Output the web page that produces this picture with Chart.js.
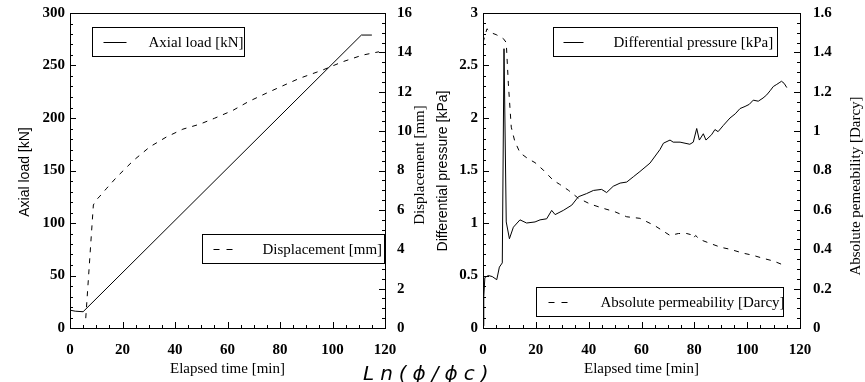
<!DOCTYPE html>
<html>
<head>
<meta charset="utf-8">
<script src="https://cdn.jsdelivr.net/npm/chart.js@4.4.1/dist/chart.umd.min.js"></script>
<style>
  body { margin: 0; background: #fff; width: 865px; height: 382px; position: relative; overflow: hidden; }
  #left { position: absolute; left: 0; top: 0; }
  #right { position: absolute; left: 432px; top: 0; }
  #ln { position: absolute; left: 363px; top: 363px; font: oblique 20px "DejaVu Sans"; letter-spacing: 6px; line-height: 20px; white-space: nowrap; color: #000; }
</style>
</head>
<body>
<canvas id="left" width="432" height="382"></canvas>
<canvas id="right" width="433" height="382"></canvas>
<div id="ln">Ln(ϕ/ϕc)</div>
<script>
// tick labels
const timeTicks = [0, 20, 40, 60, 80, 100, 120];
const loadTicks = [0, 50, 100, 150, 200, 250, 300];
const dispTicks = [0, 2, 4, 6, 8, 10, 12, 14, 16];
const dpTicks = [0, 0.5, 1, 1.5, 2, 2.5, 3];
const permTicks = [0, 0.2, 0.4, 0.6, 0.8, 1, 1.2, 1.4, 1.6];

// left panel
const loadTime = [0, 2, 5, 111, 115];
const axialLoad = [17, 16, 15.5, 279, 279];
const dispTime = [6.0, 8.9, 10, 11.4, 14, 17.7, 24.1, 30.4, 36.7, 43, 49.4, 55, 62, 68, 74.7, 81, 87.4, 96.2, 103.8, 111.4, 117.7];
const displacement = [0.5, 6.25, 6.5, 6.7, 7.1, 7.65, 8.5, 9.2, 9.7, 10.1, 10.35, 10.65, 11.05, 11.5, 11.92, 12.3, 12.68, 13.1, 13.52, 13.86, 14.03];

// right panel
const dpTime = [0, 0.3, 0.7, 2, 3.5, 5.2, 6.2, 7.3, 7.95, 8.8, 10, 11.5, 14, 16.5, 19.7, 21.6, 24.1, 26, 27.3,
  30.4, 33.6, 36.1, 39.2, 41.8, 44.9, 46.8, 49.3, 51.9, 54.4, 56.9, 59.4, 63.2, 67, 68.3, 70.8, 72, 74.6, 78.3, 79.6,
  80.9, 81.9, 83.4, 84.4, 86.5, 87.8, 89, 91, 93.5, 95.5, 97.3, 99.2, 100.8, 102.3, 104.2, 106, 107.4, 108.7, 109.9, 111.2,
  112.4, 113, 114, 115];
const diffPressure = [0.02, 0.3, 0.48, 0.5, 0.49, 0.46, 0.58, 0.62, 2.66, 1.01, 0.85, 0.96, 1.03, 1.0, 1.01, 1.03, 1.04, 1.12, 1.08,
  1.12, 1.17, 1.25, 1.28, 1.31, 1.32, 1.29, 1.35, 1.38, 1.39, 1.44, 1.49, 1.57, 1.70, 1.76, 1.79, 1.77, 1.77, 1.75, 1.77,
  1.90, 1.79, 1.85, 1.79, 1.84, 1.89, 1.87, 1.93, 2.0, 2.04, 2.09, 2.11, 2.13, 2.17, 2.16, 2.19, 2.22, 2.26, 2.30, 2.32,
  2.34, 2.35, 2.33, 2.29];
const permTime = [0, 1.5, 3, 5, 7.7, 8.8, 9.6, 10.7, 12, 14, 17, 19.7, 23, 26.6, 29, 32.3, 36, 40.5, 45, 50,
  54.4, 59.4, 65, 70.8, 74, 77.1, 78.5, 79.6, 80.5, 82, 85.9, 90, 93.5, 98.5, 102, 106, 110, 113.7];
const permeability = [1.45, 1.52, 1.50, 1.49, 1.47, 1.45, 1.24, 1.02, 0.95, 0.89, 0.86, 0.84, 0.80, 0.75, 0.73, 0.70, 0.66, 0.63, 0.61, 0.59,
  0.565, 0.557, 0.52, 0.47, 0.48, 0.48, 0.475, 0.455, 0.47, 0.45, 0.43, 0.41, 0.40, 0.38, 0.37, 0.354, 0.34, 0.32];

const serif = '"Liberation Serif", "Times New Roman", serif';
const sans = '"Liberation Sans", Arial, sans-serif';
const tickFont = { family: serif, size: 15, weight: 'bold' };

function pts(xs, ys) {
  return xs.map((x, i) => ({ x: x, y: ys[i] }));
}

// frame + inward tick marks
const frameTicks = {
  id: 'frameTicks',
  afterDraw(chart, args, opts) {
    const { ctx, chartArea: a, scales } = chart;
    ctx.save();
    ctx.strokeStyle = '#000';
    ctx.lineWidth = 1;
    ctx.strokeRect(Math.round(a.left) + 0.5, Math.round(a.top) + 0.5, Math.round(a.right - a.left), Math.round(a.bottom - a.top));
    ctx.beginPath();
    for (const id in opts.marks) {
      const [major, minor] = opts.marks[id];
      const s = scales[id];
      const n = Math.round((s.max - s.min) / minor);
      for (let i = 0; i <= n; i++) {
        const v = s.min + i * minor;
        const r = v / major;
        const len = Math.abs(r - Math.round(r)) < 1e-6 ? 6 : 3;
        const p = Math.round(s.getPixelForValue(v)) + 0.5;
        if (id === 'x') {
          ctx.moveTo(p, a.bottom); ctx.lineTo(p, a.bottom - len);
        } else if (s.position === 'left') {
          ctx.moveTo(a.left, p); ctx.lineTo(a.left + len, p);
        } else {
          ctx.moveTo(a.right, p); ctx.lineTo(a.right - len, p);
        }
      }
    }
    ctx.stroke();
    ctx.restore();
  }
};

// boxed legends and axis titles
const boxesTitles = {
  id: 'boxesTitles',
  afterDraw(chart, args, opts) {
    const { ctx, chartArea: a } = chart;
    ctx.save();
    ctx.fillStyle = '#000';
    ctx.strokeStyle = '#000';
    ctx.lineWidth = 1;
    opts.legends.forEach(l => {
      const bx = Math.round(a.left + l.box[0]) + 0.5;
      const by = Math.round(a.top + l.box[1]) + 0.5;
      const [w, h] = [l.box[2], l.box[3]];
      ctx.fillStyle = '#fff';
      ctx.fillRect(bx, by, w, h);
      ctx.strokeRect(bx, by, w, h);
      const my = Math.round(by + h / 2) + 0.5;
      ctx.setLineDash(l.dash);
      ctx.beginPath();
      ctx.moveTo(bx + l.sample[0], my);
      ctx.lineTo(bx + l.sample[1], my);
      ctx.stroke();
      ctx.setLineDash([]);
      ctx.save();
      ctx.beginPath();
      ctx.rect(bx, by, w, h);
      ctx.clip();
      ctx.fillStyle = '#000';
      ctx.font = '15px ' + serif;
      ctx.textBaseline = 'middle';
      ctx.fillText(l.text, bx + l.textX, my + 1);
      ctx.restore();
    });
    opts.titles.forEach(t => {
      const [x, y] = t.at(a);
      ctx.save();
      ctx.translate(x, y);
      ctx.rotate(t.rot);
      ctx.font = t.font;
      ctx.textAlign = 'center';
      ctx.textBaseline = 'middle';
      ctx.fillStyle = '#000';
      ctx.fillText(t.text, 0, 0);
      ctx.restore();
    });
    ctx.restore();
  }
};

function axis(pos, min, max, ticks, size, pad) {
  const horiz = pos === 'bottom';
  return {
    type: 'linear', position: pos, min: min, max: max,
    grid: { display: false, drawTicks: false }, border: { display: false },
    afterBuildTicks: s => { s.ticks = ticks.map(v => ({ value: v })); },
    ticks: { font: tickFont, color: '#000', padding: pad, maxRotation: 0, autoSkip: false,
      callback: v => String(Math.round(v * 100) / 100) },
    afterFit: s => {
      if (horiz) { s.height = size; s.paddingLeft = 0; s.paddingRight = 0; }
      else { s.width = size; s.paddingTop = 0; s.paddingBottom = 0; }
    }
  };
}

const lineStyle = { borderColor: '#000', borderWidth: 1, pointRadius: 0, tension: 0, fill: false };

new Chart(document.getElementById('left'), {
  type: 'line',
  data: {
    datasets: [
      Object.assign({ label: 'Axial load [kN]', data: pts(loadTime, axialLoad), yAxisID: 'y' }, lineStyle),
      Object.assign({ label: 'Displacement [mm]', data: pts(dispTime, displacement), yAxisID: 'y2', borderDash: [5, 6] }, lineStyle)
    ]
  },
  options: {
    responsive: false, animation: false, devicePixelRatio: 1,
    layout: { padding: { top: 13, left: 0, right: 0, bottom: 0 } },
    plugins: {
      legend: { display: false }, tooltip: { enabled: false },
      frameTicks: { marks: { x: [20, 5], y: [50, 10], y2: [2, 0.5] } },
      boxesTitles: {
        legends: [
          { text: 'Axial load [kN]', dash: [], box: [22, 14, 152, 29], sample: [11, 34], textX: 56 },
          { text: 'Displacement [mm]', dash: [6, 7], box: [132, 221, 182, 29], sample: [11, 30], textX: 60 }
        ],
        titles: [
          { text: 'Axial load [kN]', font: '14px ' + sans, rot: -Math.PI / 2, at: a => [a.left - 45, 172] },
          { text: 'Displacement [mm]', font: '15px ' + serif, rot: -Math.PI / 2, at: a => [a.right + 35, 165] },
          { text: 'Elapsed time [min]', font: '15px ' + serif, rot: 0, at: a => [(a.left + a.right) / 2, a.bottom + 41] }
        ]
      }
    },
    scales: {
      x: axis('bottom', 0, 120, timeTicks, 54, 13),
      y: axis('left', 0, 300, loadTicks, 70, 5),
      y2: axis('right', 0, 16, dispTicks, 47, 12)
    }
  },
  plugins: [frameTicks, boxesTitles]
});

new Chart(document.getElementById('right'), {
  type: 'line',
  data: {
    datasets: [
      Object.assign({ label: 'Differential pressure [kPa]', data: pts(dpTime, diffPressure), yAxisID: 'y' }, lineStyle),
      Object.assign({ label: 'Absolute permeability [Darcy]', data: pts(permTime, permeability), yAxisID: 'y2', borderDash: [5, 6] }, lineStyle)
    ]
  },
  options: {
    responsive: false, animation: false, devicePixelRatio: 1,
    layout: { padding: { top: 13, left: 0, right: 0, bottom: 0 } },
    plugins: {
      legend: { display: false }, tooltip: { enabled: false },
      frameTicks: { marks: { x: [20, 5], y: [0.5, 0.1], y2: [0.2, 0.05] } },
      boxesTitles: {
        legends: [
          { text: 'Differential pressure [kPa]', dash: [], box: [70, 14, 224, 29], sample: [10, 30], textX: 60 },
          { text: 'Absolute permeability [Darcy]', dash: [6, 7], box: [53, 274, 247, 29], sample: [12, 31], textX: 64 }
        ],
        titles: [
          { text: 'Differential pressure [kPa]', font: '14px ' + sans, rot: -Math.PI / 2, at: a => [a.left - 40, 171] },
          { text: 'Absolute pemeability [Darcy]', font: '15px ' + serif, rot: -Math.PI / 2, at: a => [a.right + 56, 186] },
          { text: 'Elapsed time [min]', font: '15px ' + serif, rot: 0, at: a => [(a.left + a.right) / 2, a.bottom + 41] }
        ]
      }
    },
    scales: {
      x: axis('bottom', 0, 120, timeTicks, 54, 13),
      y: axis('left', 0, 3, dpTicks, 51, 5),
      y2: axis('right', 0, 1.6, permTicks, 65, 13)
    }
  },
  plugins: [frameTicks, boxesTitles]
});
</script>
</body>
</html>
